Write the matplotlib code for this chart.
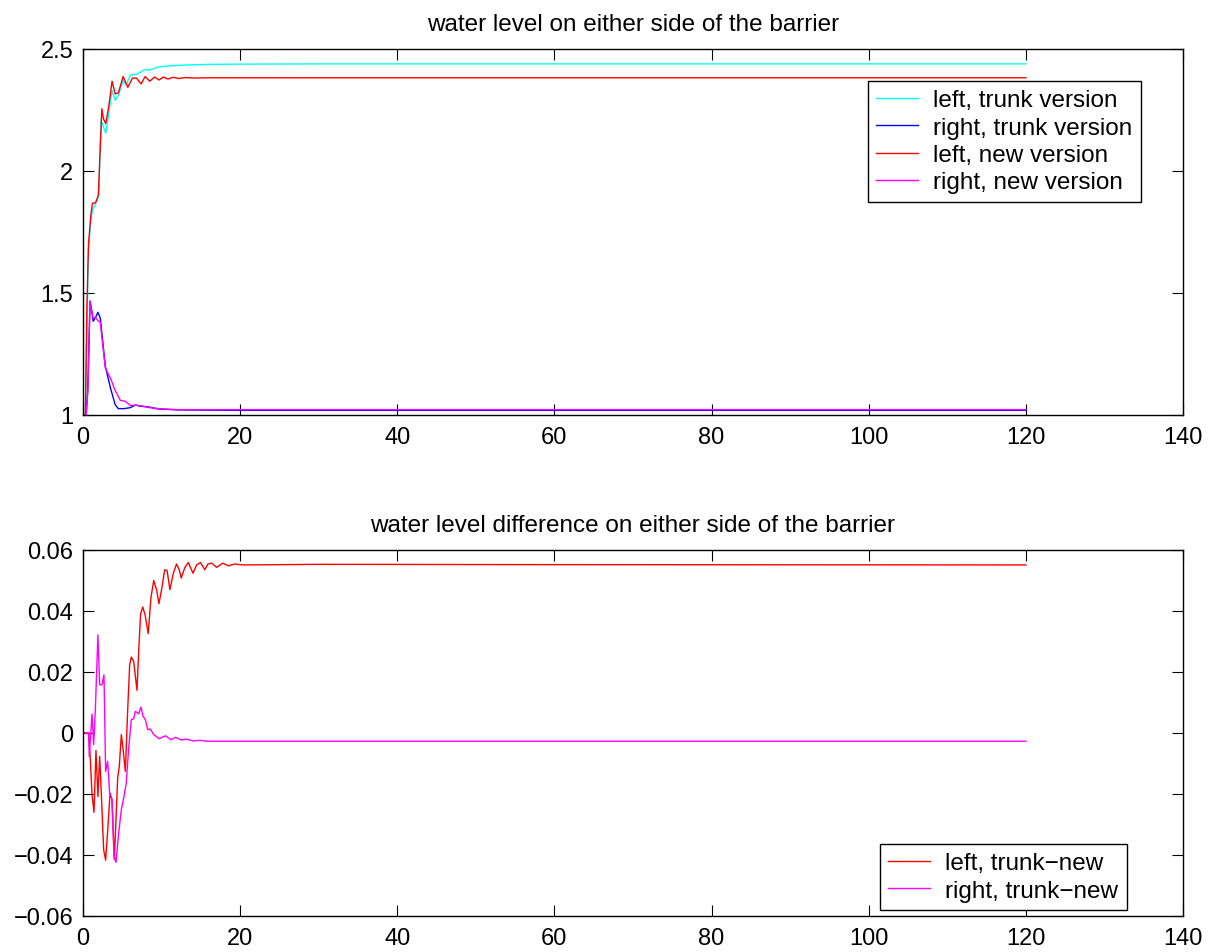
import matplotlib
matplotlib.use("Agg")
import matplotlib.pyplot as plt

plt.rcParams['font.family'] = ['Liberation Sans', 'DejaVu Sans']

# ---- top panel: water level (time, level) ----
t_left_trunk = [0, 0.3, 0.5, 0.7, 1.0, 1.2, 1.5, 1.8, 2.0, 2.3, 2.6, 2.9, 3.3, 3.7, 4.1, 4.5,
                5.1, 5.5, 6.1, 6.7, 7.3, 7.8, 8.6, 9.4, 10.6, 12.0, 13.8, 16, 20, 30, 60, 120]
h_left_trunk = [1.0, 1.0, 1.35, 1.68, 1.80, 1.84, 1.86, 1.88, 1.90, 2.21, 2.18, 2.155, 2.24, 2.33, 2.29, 2.31,
                2.37, 2.355, 2.395, 2.395, 2.405, 2.415, 2.414, 2.425, 2.43, 2.433, 2.435, 2.437, 2.438, 2.439, 2.439, 2.439]

t_right_trunk = [0, 0.4, 0.6, 0.9, 1.3, 1.6, 1.9, 2.2, 2.84, 3.5, 4.1, 4.5, 5.2, 6.0, 6.7, 7.3,
                 8.4, 9.5, 12, 20, 60, 120]
h_right_trunk = [1.0, 1.0, 1.10, 1.467, 1.384, 1.40, 1.421, 1.397, 1.20, 1.11, 1.042, 1.026, 1.026, 1.03, 1.041, 1.036,
                 1.033, 1.025, 1.021, 1.019, 1.019, 1.019]

t_left_new = [0, 0.3, 0.5, 0.7, 1.0, 1.2, 1.6, 1.95, 2.4, 2.6, 2.9, 3.3, 3.7, 4.1, 4.5, 5.1, 5.7, 6.3,
              6.8, 7.4, 7.9, 8.5, 9.1, 9.7, 10.2, 10.8, 11.5, 12.2, 13.0, 14, 16, 20, 60, 120]
h_left_new = [1.0, 1.0, 1.45, 1.70, 1.82, 1.868, 1.87, 1.90, 2.255, 2.214, 2.194, 2.27, 2.368, 2.316, 2.32, 2.387, 2.343, 2.381,
              2.381, 2.357, 2.387, 2.368, 2.385, 2.373, 2.385, 2.377, 2.384, 2.379, 2.383, 2.381, 2.382, 2.382, 2.382, 2.382]

t_right_new = [0, 0.4, 0.64, 0.89, 1.3, 1.6, 1.9, 2.2, 2.84, 3.5, 4.1, 4.75, 5.4, 6.0, 6.7, 7.3,
               8.5, 10, 12, 20, 60, 120]
h_right_new = [1.0, 1.0, 1.11, 1.467, 1.397, 1.40, 1.386, 1.38, 1.192, 1.151, 1.10, 1.06, 1.056, 1.039, 1.04, 1.038,
               1.03, 1.025, 1.022, 1.022, 1.022, 1.022]

# ---- bottom panel: trunk - new differences ----
t_dleft = [0, 0.72, 0.93, 1.15, 1.4, 1.65, 1.9, 2.12, 2.33, 2.63, 2.88, 3.18, 3.44, 3.69, 3.99, 4.41,
           4.62, 4.88, 5.13, 5.39, 5.69, 5.94, 6.15, 6.45, 6.87, 7.1, 7.33, 7.6, 7.9, 8.3, 8.64, 9.0,
           9.36, 9.66, 10.0, 10.4, 10.7, 11.06, 11.5, 11.9, 12.25, 12.5, 12.97, 13.4, 14.0, 14.45, 14.96,
           15.5, 15.9, 16.4, 17.0, 17.8, 18.5, 19.3, 20.4, 30, 60, 120]
d_left = [0, 0, -0.0087, -0.0202, -0.026, -0.0057, -0.0208, -0.0077, -0.0197, -0.0383, -0.0417, -0.0306, -0.0197, -0.0219, -0.0415, -0.0148,
          -0.0109, -0.0005, -0.006, -0.0126, 0.0077, 0.0224, 0.0249, 0.0235, 0.014, 0.0274, 0.039, 0.0413, 0.0388, 0.0326, 0.0442, 0.050,
          0.047, 0.0424, 0.047, 0.0535, 0.0533, 0.047, 0.0524, 0.0554, 0.0535, 0.0508, 0.0543, 0.0559, 0.0524, 0.0551, 0.0559,
          0.0535, 0.0554, 0.0557, 0.0543, 0.0557, 0.0548, 0.0554, 0.0551, 0.0553, 0.0552, 0.0551]

t_dright = [0, 0.72, 0.8, 1.15, 1.36, 1.57, 1.9, 2.12, 2.42, 2.67, 2.88, 3.14, 3.39, 3.69, 3.95, 4.2,
            4.54, 4.88, 5.22, 5.5, 5.8, 6.15, 6.45, 6.66, 7.1, 7.38, 7.64, 7.93, 8.23, 8.57, 9.0, 9.7,
            10.5, 11.2, 11.8, 12.5, 13.2, 14.0, 14.9, 15.7, 20, 60, 120]
d_right = [0, 0, -0.0077, 0.0062, -0.0038, 0.0077, 0.0322, 0.0158, 0.0158, 0.0191, -0.0126, -0.0093, -0.0197, -0.0219, -0.0404, -0.0424,
           -0.0328, -0.0251, -0.0208, -0.0164, -0.0055, 0.0044, 0.0046, 0.0071, 0.0063, 0.0085, 0.0055, 0.0044, 0.0011, 0.0013, -0.0005, -0.0019,
           -0.0009, -0.0022, -0.0014, -0.0023, -0.002, -0.0026, -0.0024, -0.0027, -0.0027, -0.0027, -0.0027]

x_ticks = [0, 20, 40, 60, 80, 100, 120, 140]
top_yticks = [1, 1.5, 2, 2.5]
top_ylabels = ['1', '1.5', '2', '2.5']
bot_yticks = [-0.06, -0.04, -0.02, 0, 0.02, 0.04, 0.06]
bot_ylabels = ['\u22120.06', '\u22120.04', '\u22120.02', '0', '0.02', '0.04', '0.06']

W, H = 1209, 953
fig = plt.figure(figsize=(W / 100, H / 100), dpi=100)
ax1 = fig.add_axes([83 / W, 1 - 416 / H, 1100 / W, 366 / H])
ax2 = fig.add_axes([83 / W, 1 - 917 / H, 1100 / W, 366 / H])


def style_axes(ax):
    ax.set_xlim(0, 140)
    ax.set_xticks(x_ticks)
    ax.tick_params(direction='in', top=True, right=True, length=8, width=0.8,
                   labelsize=17, color='black')
    ax.tick_params(axis='x', pad=8)
    ax.tick_params(axis='y', pad=7)
    for s in ax.spines.values():
        s.set_linewidth(1.0)


def add_legend(ax, loc, anchor):
    leg = ax.legend(loc=loc, bbox_to_anchor=anchor, fontsize=17.5,
                    fancybox=False, edgecolor='black', framealpha=1, handlelength=1.7,
                    handletextpad=0.65, labelspacing=0.22, borderpad=0.35, borderaxespad=0)
    leg.get_frame().set_linewidth(1.0)
    return leg


lw = 1.0
ax1.plot(t_left_trunk, h_left_trunk, color='cyan', lw=lw, label='left, trunk version')
ax1.plot(t_right_trunk, h_right_trunk, color='blue', lw=lw, label='right, trunk version')
ax1.plot(t_left_new, h_left_new, color='red', lw=lw, label='left, new version')
ax1.plot(t_right_new, h_right_new, color='magenta', lw=lw, label='right, new version')
style_axes(ax1)
ax1.set_ylim(1, 2.5)
ax1.set_yticks(top_yticks)
ax1.set_yticklabels(top_ylabels)
ax1.set_title('water level on either side of the barrier', fontsize=17.5, pad=14)
add_legend(ax1, 'upper right', (0.962, 0.913))

ax2.plot(t_dleft, d_left, color='red', lw=lw, label='left, trunk\u2212new')
ax2.plot(t_dright, d_right, color='magenta', lw=lw, label='right, trunk\u2212new')
style_axes(ax2)
ax2.set_ylim(-0.06, 0.06)
ax2.set_yticks(bot_yticks)
ax2.set_yticklabels(bot_ylabels)
ax2.set_title('water level difference on either side of the barrier', fontsize=17.5, pad=14)
add_legend(ax2, 'lower right', (0.949, 0.016))

fig.savefig('out.png', dpi=100)
